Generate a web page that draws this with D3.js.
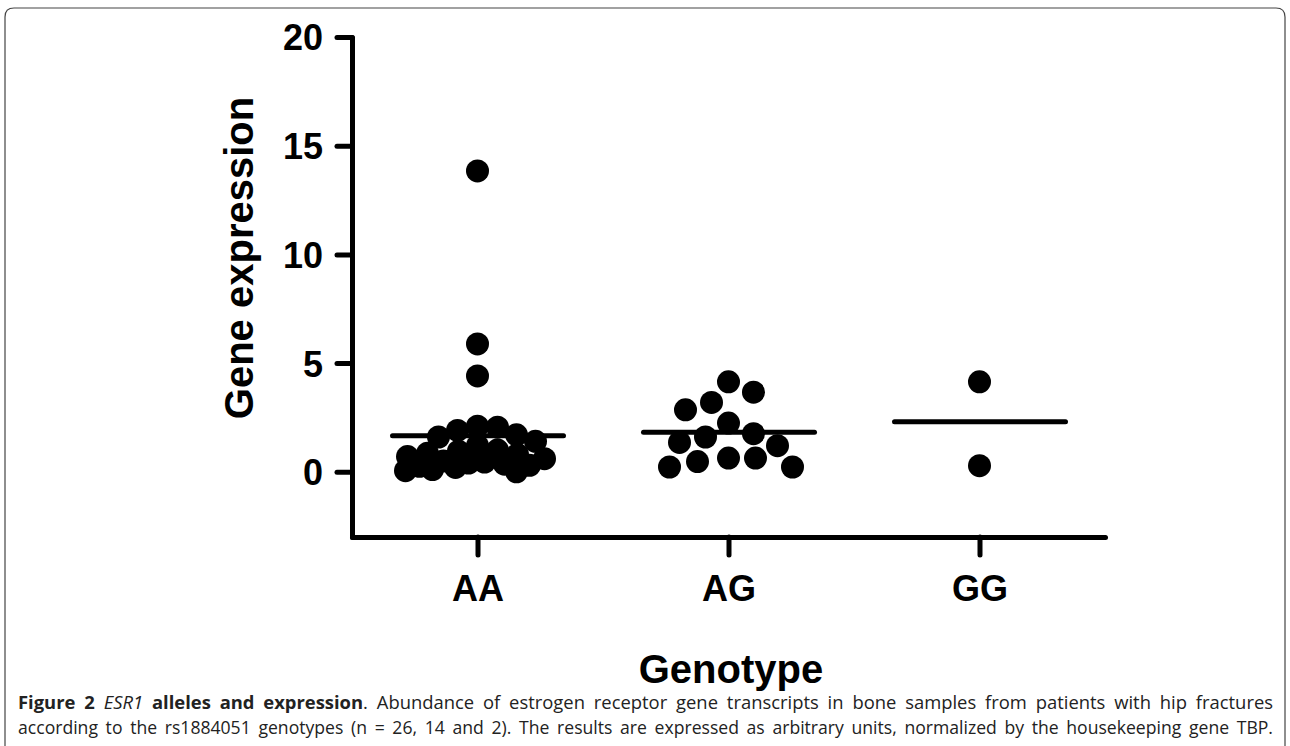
<!DOCTYPE html>
<html>
<head>
<meta charset="utf-8">
<script src="https://cdn.jsdelivr.net/npm/d3@7"></script>
<style>
  body { margin: 0; background: #fff; }
  svg { display: block; }
</style>
</head>
<body>
<div id="vis"></div>
<script>
// values (arbitrary units)
let genotypes = ['AA', 'AG', 'GG'];
let aaValues = [13.84, 5.88, 4.41, 2.1, 2.05, 1.9, 1.7, 1.6, 1.4, 1.2, 1.0, 0.95, 0.85,
  0.8, 0.7, 0.6, 0.5, 0.45, 0.4, 0.35, 0.3, 0.25, 0.2, 0.1, 0.05, 0.0];
let agValues = [4.14, 3.66, 3.19, 2.85, 2.24, 1.75, 1.6, 1.35, 1.2, 0.63, 0.63, 0.47, 0.22, 0.22];
let ggValues = [4.14, 0.28];
let means = [1.66, 1.82, 2.30];
let yTicks = [0, 5, 10, 15, 20];

let width = 1290, height = 746;
let margin = { top: 37, left: 352, right: 185, bottom: 209 };

let svg = d3.select('#vis').append('svg')
  .attr('width', width)
  .attr('height', height);

// frame round the figure (open at the bottom)
svg.append('path')
  .attr('d', 'M5,' + height + ' L5,17 Q5,8 14,8 L1276,8 Q1285,8 1285,17 L1285,' + height)
  .attr('fill', 'none')
  .attr('stroke', '#444')
  .attr('stroke-width', 1.2);

let xScale = d3.scalePoint()
  .domain(genotypes)
  .range([margin.left, width - margin.right])
  .padding(0.5);

let yScale = d3.scaleLinear()
  .domain([-3, 20])
  .range([height - margin.bottom, margin.top]);

// axes
let yAxis = svg.append('g')
  .attr('transform', 'translate(' + margin.left + ',0)')
  .call(d3.axisLeft(yScale).tickValues(yTicks).tickSize(15).tickPadding(14).tickSizeOuter(0));
let xAxis = svg.append('g')
  .attr('transform', 'translate(0,' + (height - margin.bottom) + ')')
  .call(d3.axisBottom(xScale).tickSize(18).tickPadding(20).tickSizeOuter(0));

[xAxis, yAxis].forEach(function(ax) {
  ax.select('.domain').attr('stroke', '#000').attr('stroke-width', 5).attr('stroke-linecap', 'round');
  ax.selectAll('.tick line').attr('stroke', '#000').attr('stroke-width', 5).attr('stroke-linecap', 'round');
  ax.selectAll('.tick text')
    .attr('fill', '#000')
    .style('font-family', '"Liberation Sans", Arial, sans-serif')
    .style('font-weight', 'bold')
    .style('font-size', '36px');
});
yAxis.selectAll('.tick text').attr('dy', '0.36em');
xAxis.selectAll('.tick text').attr('dy', '0.71em');

// axis titles
svg.append('text')
  .attr('transform', 'translate(253,258) rotate(-90)')
  .attr('text-anchor', 'middle')
  .style('font-family', '"Liberation Sans", Arial, sans-serif')
  .style('font-weight', 'bold')
  .style('font-size', '40px')
  .text('Gene expression');

svg.append('text')
  .attr('x', 731)
  .attr('y', 683)
  .attr('text-anchor', 'middle')
  .style('font-family', '"Liberation Sans", Arial, sans-serif')
  .style('font-weight', 'bold')
  .style('font-size', '40px')
  .text('Genotype');

// column scatter: put each point as near the centre as it fits
let r = 11.5;
function scatter(values, cx, maxW, gap) {
  let placed = [];
  values.forEach(function(v) {
    let y = yScale(v);
    let best = null, bestD = -1;
    for (let k = 0; k <= maxW; k++) {
      let cands = k === 0 ? [0] : [k, -k];
      for (let j = 0; j < cands.length; j++) {
        let x = cx + cands[j];
        let dmin = d3.min(placed, function(p) { return Math.hypot(p.x - x, p.y - y); });
        if (dmin === undefined) dmin = Infinity;
        if (dmin >= 2 * r * gap) { best = x; bestD = Infinity; break; }
        if (dmin > bestD) { bestD = dmin; best = x; }
      }
      if (bestD === Infinity) break;
    }
    placed.push({ x: best, y: y, v: v });
  });
  return placed;
}

let groups = [aaValues, agValues, ggValues];
let widths = [72, 64, 0];
let gaps = [0.85, 1.15, 1];
groups.forEach(function(vals, i) {
  let cx = xScale(genotypes[i]);
  let pts = scatter(vals, cx, widths[i], gaps[i]);
  svg.append('g').selectAll('circle')
    .data(pts)
    .join('circle')
      .attr('cx', function(d) { return d.x; })
      .attr('cy', function(d) { return d.y; })
      .attr('r', r)
      .attr('fill', '#000');

  // mean line
  svg.append('line')
    .attr('x1', cx - 85)
    .attr('x2', cx + 86)
    .attr('y1', yScale(means[i]))
    .attr('y2', yScale(means[i]))
    .attr('stroke', '#000')
    .attr('stroke-width', 5)
    .attr('stroke-linecap', 'round');
});

// caption, justified across the frame
let capLeft = 18, capRight = 1273;
let capFont = '"Open Sans", "Noto Sans", sans-serif';
let line1 = svg.append('text')
  .attr('x', capLeft).attr('y', 709)
  .style('font-family', capFont).style('font-size', '18.4px').attr('fill', '#222');
line1.append('tspan').style('font-weight', 'bold').text('Figure 2 ');
line1.append('tspan').style('font-style', 'italic').text('ESR1');
line1.append('tspan').style('font-weight', 'bold').text(' alleles and expression');
line1.append('tspan').text('. Abundance of estrogen receptor gene transcripts in bone samples from patients with hip fractures');

let line2 = svg.append('text')
  .attr('x', capLeft).attr('y', 734)
  .style('font-family', capFont).style('font-size', '17.6px').attr('fill', '#222')
  .text('according to the rs1884051 genotypes (n = 26, 14 and 2). The results are expressed as arbitrary units, normalized by the housekeeping gene TBP.');

[line1, line2].forEach(function(t) {
  let natural = t.node().getComputedTextLength();
  let spaces = (t.text().match(/ /g) || []).length;
  let extra = (capRight - capLeft - natural) / spaces;
  t.style('word-spacing', extra + 'px');
});
</script>
</body>
</html>
